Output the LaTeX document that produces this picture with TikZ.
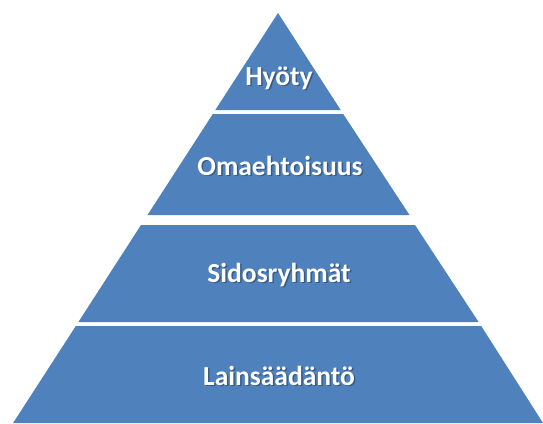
\documentclass[tikz,border=0pt]{standalone}
\usepackage{fontspec}
\setmainfont{Carlito}
\definecolor{pyrblue}{HTML}{4F81BD}
\begin{document}
\begin{tikzpicture}[x=1pt,y=-1pt,
  layer/.style={fill=pyrblue,draw=none},
  lbl/.style={text=white,font=\fontsize{27.5}{30}\selectfont\bfseries,inner sep=0pt,anchor=base},
  shd/.style={text=black,opacity=0.3,font=\fontsize{27.5}{30}\selectfont\bfseries,inner sep=0pt,anchor=base}]
\useasboundingbox (0,0) rectangle (543,423);
% layers
\fill[layer] (278,13) -- (340.7,110) -- (215.3,110) -- cycle;
\fill[layer] (212.8,114) -- (343.2,114) -- (409.5,215) -- (147.5,215) -- cycle;
\fill[layer] (141,225) -- (415,225) -- (478.6,322) -- (78.4,322) -- cycle;
\fill[layer] (75.8,326) -- (481.2,326) -- (543,423) -- (13.1,423) -- cycle;
% shadows
\node[shd] (s1) at (280.5,86.5) {Hyöty};
\node[shd] (s2) at (281.5,176.5) {Omaehtoisuus};
\node[shd] (s3) at (280.5,283.5) {Sidosryhmät};
\node[shd] (s4) at (280.5,386.5) {Lainsäädäntö};
% labels
\node[lbl] (t1) at (279,85) {Hyöty};
\node[lbl] (t2) at (280,175) {Omaehtoisuus};
\node[lbl] (t3) at (279,282) {Sidosryhmät};
\node[lbl] (t4) at (279,385) {Lainsäädäntö};
\end{tikzpicture}
\end{document}
